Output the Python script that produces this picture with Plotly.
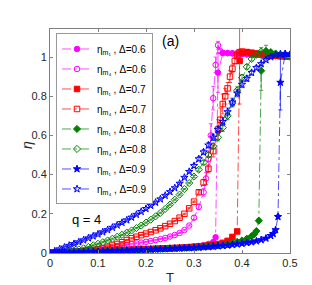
import plotly.graph_objects as go

# ---------------- data ----------------
# Delta = 0.6
T_m1_06 = [0.00,0.01,0.02,0.03,0.04,0.05,0.06,0.07,0.08,0.09,0.10,0.11,0.12,0.13,0.14,0.15,0.16,0.17,0.18,0.19,
           0.20,0.21,0.22,0.23,0.24,0.25,0.26,0.27,0.28,0.29,0.30,0.31,0.32,0.33,0.34,0.345,0.35,0.36,0.37,0.38,
           0.39,0.40,0.41,0.42,0.43,0.44,0.45,0.46,0.47,0.48,0.49,0.50]
eta_m1_06 = [0.000,0.001,0.002,0.003,0.004,0.005,0.006,0.007,0.008,0.009,0.010,0.011,0.012,0.013,0.013,0.014,0.015,0.016,0.017,0.018,
             0.019,0.020,0.021,0.022,0.023,0.024,0.025,0.027,0.029,0.031,0.033,0.036,0.040,0.046,0.056,0.080,0.920,1.020,1.020,1.018,
             1.016,1.015,1.013,1.012,1.010,1.010,1.008,1.006,1.005,1.004,1.003,1.002]
err_m1_06 = [0.001]*35 + [0.010, 0.100] + [0.005]*15

T_m4_06 = [0.00,0.01,0.02,0.03,0.04,0.05,0.06,0.07,0.08,0.09,0.10,0.11,0.12,0.13,0.14,0.15,0.16,0.17,0.18,0.19,
           0.20,0.21,0.22,0.23,0.24,0.25,0.26,0.27,0.28,0.29,0.30,0.31,0.32,0.325,0.33,0.335,0.34,0.345,0.35,0.355,
           0.36,0.37,0.38,0.39,0.40,0.41,0.42,0.43,0.44,0.45,0.46,0.47,0.48,0.49,0.50]
eta_m4_06 = [0.000,0.001,0.002,0.003,0.005,0.007,0.009,0.011,0.013,0.015,0.018,0.021,0.025,0.029,0.033,0.037,0.041,0.045,0.049,0.053,
             0.057,0.061,0.066,0.071,0.077,0.084,0.092,0.102,0.117,0.140,0.180,0.235,0.310,0.380,0.480,0.600,0.790,0.960,1.060,1.030,
             1.022,1.020,1.020,1.020,1.018,1.016,1.014,1.012,1.010,1.008,1.006,1.005,1.004,1.003,1.002]
err_m4_06 = [0.003]*30 + [0.010,0.015,0.020,0.030,0.040,0.060,0.060,0.040,0.020,0.010] + [0.005]*15

# Delta = 0.7
T_m1_07 = [0.00,0.01,0.02,0.03,0.04,0.05,0.06,0.07,0.08,0.09,0.10,0.11,0.12,0.13,0.14,0.15,0.16,0.17,0.18,0.19,
           0.20,0.21,0.22,0.23,0.24,0.25,0.26,0.27,0.28,0.29,0.30,0.31,0.32,0.33,0.34,0.35,0.36,0.37,0.38,0.39,
           0.395,0.40,0.41,0.42,0.43,0.44,0.45,0.46,0.47,0.48,0.49,0.50]
eta_m1_07 = [0.000,0.001,0.002,0.003,0.004,0.005,0.006,0.007,0.008,0.009,0.010,0.011,0.012,0.013,0.014,0.015,0.016,0.017,0.018,0.019,
             0.020,0.021,0.022,0.023,0.024,0.025,0.026,0.027,0.028,0.030,0.032,0.034,0.036,0.039,0.042,0.046,0.052,0.062,0.082,0.110,
             0.980,1.022,1.025,1.022,1.018,1.015,1.012,1.010,1.008,1.006,1.004,1.002]
err_m1_07 = [0.001]*40 + [0.220] + [0.005]*11

T_m4_07 = [0.00,0.01,0.02,0.03,0.04,0.05,0.06,0.07,0.08,0.09,0.10,0.11,0.12,0.13,0.14,0.15,0.16,0.17,0.18,0.19,
           0.20,0.21,0.22,0.23,0.24,0.25,0.26,0.27,0.28,0.29,0.30,0.31,0.32,0.33,0.34,0.35,0.355,0.36,0.365,0.37,
           0.375,0.38,0.385,0.39,0.395,0.40,0.41,0.42,0.43,0.44,0.45,0.46,0.47,0.48,0.49,0.50]
eta_m4_07 = [0.000,0.001,0.002,0.003,0.004,0.006,0.008,0.010,0.013,0.016,0.020,0.025,0.031,0.038,0.046,0.055,0.066,0.075,0.083,0.091,
             0.099,0.107,0.116,0.126,0.137,0.149,0.163,0.180,0.200,0.228,0.262,0.310,0.360,0.430,0.520,0.630,0.680,0.760,0.800,0.840,
             0.900,0.940,0.980,1.010,1.025,1.028,1.025,1.020,1.016,1.013,1.010,1.008,1.006,1.004,1.003,1.002]
err_m4_07 = [0.003]*31 + [0.010,0.015,0.020,0.030,0.050,0.060,0.050,0.040,0.030,0.030,0.020,0.015,0.010,0.008] + [0.005]*11

# Delta = 0.8
T_m1_08 = [0.00,0.01,0.02,0.03,0.04,0.05,0.06,0.07,0.08,0.09,0.10,0.11,0.12,0.13,0.14,0.15,0.16,0.17,0.18,0.19,
           0.20,0.21,0.22,0.23,0.24,0.25,0.26,0.27,0.28,0.29,0.30,0.31,0.32,0.33,0.34,0.35,0.36,0.37,0.38,0.39,
           0.40,0.41,0.42,0.425,0.43,0.435,0.44,0.45,0.46,0.47,0.48,0.49,0.50]
eta_m1_08 = [0.000,0.001,0.001,0.002,0.003,0.004,0.005,0.006,0.007,0.008,0.009,0.010,0.011,0.012,0.013,0.014,0.015,0.015,0.016,0.017,
             0.018,0.019,0.020,0.021,0.022,0.023,0.024,0.025,0.026,0.027,0.028,0.030,0.032,0.034,0.036,0.039,0.042,0.046,0.051,0.057,
             0.064,0.073,0.086,0.095,0.112,0.165,0.930,1.030,1.025,1.018,1.012,1.008,1.004]
err_m1_08 = [0.001]*45 + [0.010,0.100] + [0.005]*6

T_m4_08 = [0.00,0.01,0.02,0.03,0.04,0.05,0.06,0.07,0.08,0.09,0.10,0.11,0.12,0.13,0.14,0.15,0.16,0.17,0.18,0.19,
           0.20,0.21,0.22,0.23,0.24,0.25,0.26,0.27,0.28,0.29,0.30,0.31,0.32,0.33,0.34,0.35,0.36,0.37,0.38,0.39,
           0.40,0.41,0.42,0.43,0.44,0.45,0.46,0.47,0.48,0.49,0.50]
eta_m4_08 = [0.000,0.002,0.004,0.006,0.009,0.013,0.018,0.024,0.031,0.039,0.047,0.055,0.064,0.073,0.083,0.093,0.104,0.115,0.127,0.140,
             0.155,0.170,0.187,0.205,0.225,0.247,0.272,0.298,0.326,0.357,0.390,0.425,0.462,0.500,0.545,0.590,0.640,0.700,0.765,0.830,
             0.895,0.950,0.990,1.012,1.028,1.030,1.022,1.012,1.006,1.003,1.002]
err_m4_08 = [0.003]*30 + [0.006,0.008,0.010,0.012,0.015,0.018,0.020,0.020,0.020,0.018,0.015,0.012,0.010,0.008,0.020,0.030,0.010,0.006,0.005,0.005,0.005]

# Delta = 0.9
T_m1_09 = [0.00,0.01,0.02,0.03,0.04,0.05,0.06,0.07,0.08,0.09,0.10,0.11,0.12,0.13,0.14,0.15,0.16,0.17,0.18,0.19,
           0.20,0.21,0.22,0.23,0.24,0.25,0.26,0.27,0.28,0.29,0.30,0.31,0.32,0.33,0.34,0.35,0.36,0.37,0.38,0.39,
           0.40,0.41,0.42,0.43,0.44,0.45,0.46,0.465,0.47,0.475,0.48,0.49,0.50]
eta_m1_09 = [0.000,0.001,0.001,0.002,0.003,0.004,0.004,0.005,0.006,0.007,0.008,0.009,0.010,0.011,0.012,0.012,0.013,0.014,0.015,0.016,
             0.017,0.018,0.019,0.020,0.021,0.022,0.023,0.024,0.025,0.026,0.027,0.028,0.030,0.031,0.033,0.035,0.037,0.039,0.042,0.045,
             0.048,0.052,0.056,0.061,0.067,0.075,0.088,0.098,0.118,0.185,0.870,1.015,1.010]
err_m1_09 = [0.001]*49 + [0.010,0.140,0.010,0.005]

T_m4_09 = [0.00,0.01,0.02,0.03,0.04,0.05,0.06,0.07,0.08,0.09,0.10,0.11,0.12,0.13,0.14,0.15,0.16,0.17,0.18,0.19,
           0.20,0.21,0.22,0.23,0.24,0.25,0.26,0.27,0.28,0.29,0.30,0.31,0.32,0.33,0.34,0.35,0.36,0.37,0.38,0.39,
           0.40,0.41,0.42,0.43,0.44,0.45,0.46,0.47,0.48,0.49,0.50]
eta_m4_09 = [0.000,0.010,0.020,0.029,0.038,0.047,0.056,0.066,0.076,0.086,0.096,0.107,0.118,0.130,0.142,0.155,0.168,0.182,0.196,0.211,
             0.226,0.242,0.258,0.275,0.293,0.312,0.332,0.355,0.385,0.415,0.445,0.480,0.515,0.550,0.590,0.630,0.670,0.720,0.770,0.815,
             0.860,0.890,0.920,0.945,0.965,0.985,1.000,1.010,1.015,1.015,1.012]
err_m4_09 = [0.004]*30 + [0.008,0.010,0.012,0.014,0.016,0.018,0.020,0.020,0.020,0.018,0.016,0.014,0.012,0.010,0.008,0.006,0.006,0.005,0.005,0.005,0.005]

series = [
    ("η<sub>m₁</sub> , Δ=0.6", T_m1_06, eta_m1_06, err_m1_06, "#FF00FF", "circle"),
    ("η<sub>m₄</sub> , Δ=0.6", T_m4_06, eta_m4_06, err_m4_06, "#FF00FF", "circle-open"),
    ("η<sub>m₁</sub> , Δ=0.7", T_m1_07, eta_m1_07, err_m1_07, "#FF0000", "square"),
    ("η<sub>m₄</sub> , Δ=0.7", T_m4_07, eta_m4_07, err_m4_07, "#FF0000", "square-open"),
    ("η<sub>m₁</sub> , Δ=0.8", T_m1_08, eta_m1_08, err_m1_08, "#008000", "diamond"),
    ("η<sub>m₄</sub> , Δ=0.8", T_m4_08, eta_m4_08, err_m4_08, "#008000", "diamond-open"),
    ("η<sub>m₁</sub> , Δ=0.9", T_m1_09, eta_m1_09, err_m1_09, "#0000FF", "star"),
    ("η<sub>m₄</sub> , Δ=0.9", T_m4_09, eta_m4_09, err_m4_09, "#0000FF", "star-open"),
]

x_ticks = [0, 0.1, 0.2, 0.3, 0.4, 0.5]
y_ticks = [0, 0.2, 0.4, 0.6, 0.8, 1]

fig = go.Figure()
for i, (name, T, eta, err, color, sym) in enumerate(series):
    fig.add_trace(go.Scatter(
        x=T, y=eta, name=name, mode="lines+markers", legendgroup=f"g{i}",
        line=dict(color=color, width=0.7, dash="dashdot"),
        marker=dict(symbol=sym, size=5.5, color=color, line=dict(color=color, width=1)),
        error_y=dict(type="data", array=err, visible=True, color=color, thickness=0.7, width=2),
    ))

fig.add_annotation(x=0.25, y=1.08, xref="x", yref="y", text="(a)", showarrow=False,
                   font=dict(size=14, color="#000"))
fig.add_annotation(x=0.075, y=0.17, xref="x", yref="y", text="q = 4", showarrow=False,
                   font=dict(size=13, color="#000"))
# axis labels (placed like MATLAB xlabel / ylabel)
fig.add_annotation(x=-0.135, y=0.48, xref="paper", yref="paper", text="<i>η</i>", showarrow=False,
                   textangle=-90, font=dict(size=14, color="#262626"))
fig.add_annotation(x=0.5, y=-0.11, xref="paper", yref="paper", text="T", showarrow=False,
                   yanchor="middle", font=dict(size=13, color="#262626"))

axis_common = dict(showline=True, linecolor="#808080", linewidth=1, mirror="ticks",
                   ticks="inside", ticklen=3, tickcolor="#808080", showgrid=False, zeroline=False,
                   tickfont=dict(size=11, color="#262626"), automargin=False)
fig.update_xaxes(range=[0, 0.5], tickvals=x_ticks, ticktext=[f"{v:g}" for v in x_ticks], **axis_common)
fig.update_yaxes(range=[0, 1.143], tickvals=y_ticks, ticktext=[f"{v:g}" for v in y_ticks], **axis_common)

fig.update_layout(
    width=312, height=285,
    margin=dict(l=42, r=30, t=21, b=40),
    paper_bgcolor="white", plot_bgcolor="white",
    font=dict(family="Liberation Sans, Arial, sans-serif"),
    legend=dict(x=0.025, y=0.98, xanchor="left", yanchor="top",
                bgcolor="white", bordercolor="#999999", borderwidth=1,
                font=dict(size=10, color="#000"), itemwidth=30, tracegroupgap=1),
    showlegend=True,
)
fig.write_html("out.html")
